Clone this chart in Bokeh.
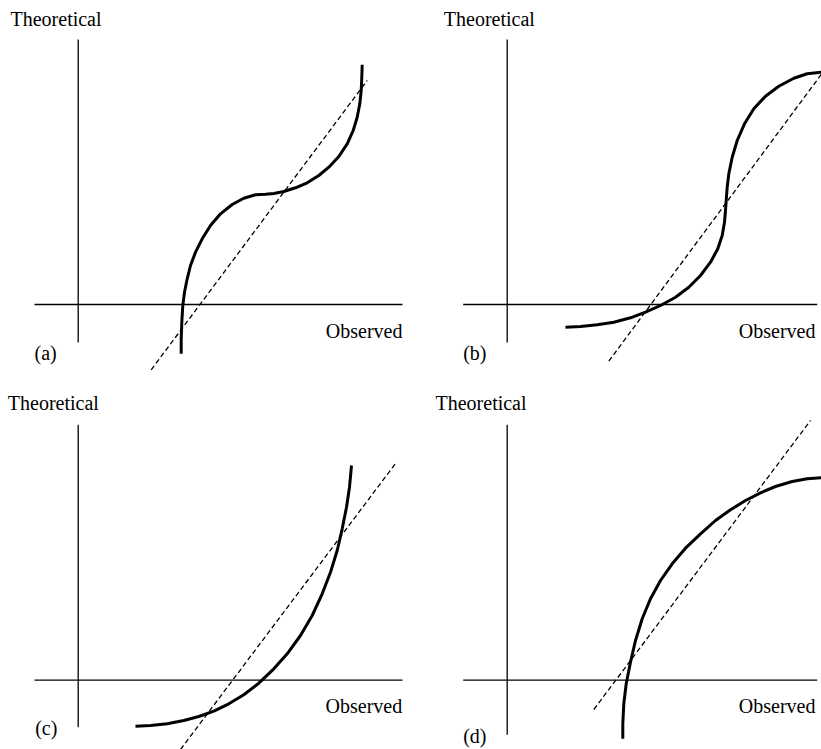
from bokeh.plotting import figure
from bokeh.layouts import gridplot
from bokeh.models import Range1d, Label
from bokeh.embed import file_html
from bokeh.resources import INLINE

# ---- data (units: relative to each panel's axis origin, y up) ----
panel_tags = ["(a)", "(b)", "(c)", "(d)"]
y_label = "Theoretical"
x_label = "Observed"

curve_a_x = [103.0, 103.0, 103.6, 104.6, 106.3, 109.0, 112.3, 117.3, 124.0, 132.3, 142.3, 154.0, 165.6, 177.3, 187.3,
             195.6, 205.6, 217.3, 229.0, 240.6, 250.6, 260.6, 269.0, 275.0, 279.0, 281.6, 283.0, 283.6, 284.0]
curve_a_y = [-49.3, -34.3, -17.7, -1.0, 12.3, 25.7, 39.0, 52.3, 65.7, 79.0, 90.7, 100.0, 106.3, 109.7, 110.3,
             111.0, 113.0, 116.7, 121.7, 129.0, 137.3, 148.0, 160.7, 174.0, 187.3, 200.7, 214.0, 227.3, 239.7]
line_a_x = [73.0, 289.0]
line_a_y = [-65.3, 224.0]

curve_b_x = [58.3, 73.3, 90.0, 106.6, 123.3, 138.3, 153.3, 168.3, 181.6, 193.3, 203.3, 210.6, 215.0, 217.3,
             218.3, 219.0, 220.0, 221.6, 225.0, 230.0, 237.3, 246.6, 258.3, 271.6, 286.6, 300.0, 314.3]
curve_b_y = [-22.7, -22.0, -20.3, -17.7, -13.3, -7.7, -1.0, 7.3, 17.3, 29.0, 42.3, 55.7, 69.0, 82.3,
             94.0, 104.0, 117.3, 130.7, 147.3, 164.0, 180.7, 195.7, 208.3, 218.3, 226.3, 230.7, 232.3]
line_b_x = [101.6, 314.0]
line_b_y = [-56.7, 230.0]

curve_c_x = [57.3, 72.3, 89.0, 105.6, 120.6, 135.6, 150.6, 165.6, 180.6, 195.6, 209.0, 222.3, 234.0, 244.0,
             252.3, 259.0, 264.0, 268.3, 271.3, 273.3]
curve_c_y = [-46.0, -45.3, -43.6, -40.3, -36.3, -31.0, -23.6, -14.6, -3.0, 11.4, 26.4, 44.7, 64.7, 86.4,
             108.0, 129.7, 151.4, 173.0, 193.0, 214.7]
line_c_x = [102.3, 318.3]
line_c_y = [-69.3, 218.0]

curve_d_x = [115.6, 115.6, 116.6, 119.0, 123.3, 128.3, 135.0, 143.3, 153.3, 165.0, 178.3, 193.3, 208.3, 223.3,
             238.3, 253.3, 268.3, 285.0, 300.0, 314.3]
curve_d_y = [-58.6, -43.6, -23.6, -3.6, 18.0, 39.7, 61.4, 81.4, 99.7, 116.4, 132.0, 146.4, 159.7, 170.4,
             179.7, 187.4, 193.7, 198.7, 201.4, 202.4]
line_d_x = [86.6, 303.3]
line_d_y = [-29.3, 259.7]

curves = [(curve_a_x, curve_a_y), (curve_b_x, curve_b_y), (curve_c_x, curve_c_y), (curve_d_x, curve_d_y)]
refs = [(line_a_x, line_a_y), (line_b_x, line_b_y), (line_c_x, line_c_y), (line_d_x, line_d_y)]

# ---- layout ----
FONT = "Liberation Serif, DejaVu Serif, serif"
panel_w = [410, 411, 410, 411]
panel_h = [375, 375, 374, 374]
origin = [(77.7, 304.0), (96.7, 304.0), (77.7, 304.7), (96.7, 304.7)]  # origin inside panel (from left, from top)
vaxis = [(-38, 265), (-38, 265), (-47, 255.4), (-54.6, 255.4)]
haxis = [(-43.7, 324.3), (-44, 310), (-43.7, 324.3), (-44, 310)]
ylab_pos = [(-67.7, 286), (-63.4, 286), (-70.4, 277.4), (-71.7, 277.4)]
xlab_pos = [(324.3, -26), (308.3, -26), (324.0, -25.3), (308.3, -25.3)]
tag_pos = [(-43.7, -48), (-44, -48.7), (-43, -48), (-44, -55.3)]

figs = []
for i in range(4):
    ox, oy = origin[i]
    w, h = panel_w[i], panel_h[i]
    p = figure(width=w, height=h, output_backend="svg", toolbar_location=None,
               x_axis_type=None, y_axis_type=None, min_border=0,
               x_range=Range1d(-ox, w - ox), y_range=Range1d(oy - h, oy))
    p.grid.visible = False
    p.outline_line_color = None
    p.background_fill_color = "white"
    p.border_fill_color = "white"
    # axes lines
    p.segment(x0=[0], y0=[vaxis[i][0]], x1=[0], y1=[vaxis[i][1]], line_color="black", line_width=1.3)
    p.segment(x0=[haxis[i][0]], y0=[0], x1=[haxis[i][1]], y1=[0], line_color="black", line_width=1.3)
    # reference dashed line
    rx, ry = refs[i]
    p.line(rx, ry, line_color="black", line_width=1.3, line_dash="5 3")
    # curve
    cx, cy = curves[i]
    p.line(cx, cy, line_color="black", line_width=3, line_cap="butt", line_join="round")
    # texts
    p.add_layout(Label(x=ylab_pos[i][0], y=ylab_pos[i][1], text=y_label, text_font=FONT,
                       text_font_size="20px", text_color="black", text_baseline="middle", text_align="left"))
    p.add_layout(Label(x=xlab_pos[i][0], y=xlab_pos[i][1], text=x_label, text_font=FONT,
                       text_font_size="20px", text_color="black", text_baseline="middle", text_align="right"))
    p.add_layout(Label(x=tag_pos[i][0], y=tag_pos[i][1], text=panel_tags[i], text_font=FONT,
                       text_font_size="20px", text_color="black", text_baseline="middle", text_align="left"))
    figs.append(p)

grid = gridplot([[figs[0], figs[1]], [figs[2], figs[3]]], toolbar_location=None)

open("out.html", "w").write(file_html(grid, INLINE))
